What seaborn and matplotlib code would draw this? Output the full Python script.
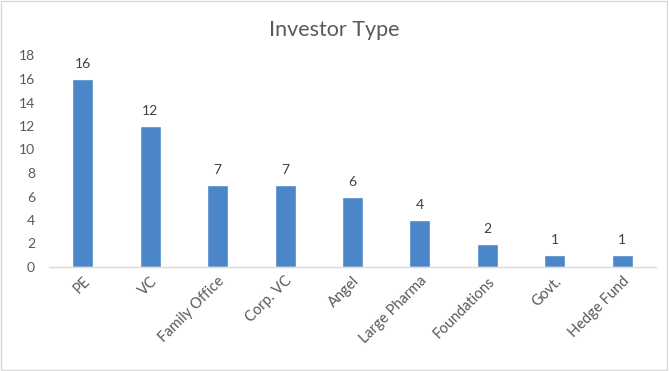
import matplotlib
matplotlib.use('Agg')
import matplotlib.pyplot as plt
import seaborn as sns
import pandas as pd
from matplotlib.patches import Rectangle

# Data
investor_types = ['PE', 'VC', 'Family Office', 'Corp. VC', 'Angel',
                  'Large Pharma', 'Foundations', 'Govt.', 'Hedge Fund']
counts = [16, 12, 7, 7, 6, 4, 2, 1, 1]
y_ticks = list(range(0, 20, 2))

sns.set_style('white')
plt.rcParams['font.family'] = ['Lato', 'DejaVu Sans']

df = pd.DataFrame({'type': investor_types, 'count': counts})

fig = plt.figure(figsize=(6.69, 3.71), dpi=100)
ax = fig.add_axes([49 / 669, 1 - 267 / 371, 607 / 669, 211.5 / 371])

sns.barplot(data=df, x='type', y='count', color='#4a86c8', saturation=1,
            width=0.31, ax=ax)

# value labels above bars
for i, v in enumerate(counts):
    ax.text(i, v + 0.75, str(v), ha='center', va='bottom', fontsize=10, color='#404040')

ax.set_ylim(0, 18)
ax.set_yticks(y_ticks)
ax.tick_params(axis='y', labelsize=10, labelcolor='#595959', length=0, pad=10)
ax.tick_params(axis='x', labelsize=10.5, labelcolor='#595959', length=0, pad=5)
plt.setp(ax.get_xticklabels(), rotation=45, ha='right', rotation_mode='anchor')
ax.set_xlabel('')
ax.set_ylabel('')
for s in ['top', 'right', 'left']:
    ax.spines[s].set_visible(False)
ax.spines['bottom'].set_color('#d9d9d9')
ax.spines['bottom'].set_linewidth(1)

fig.text(0.5, 1 - 30 / 371, 'Investor Type', ha='center', va='center',
         fontsize=15.5, color='#595959')

# light chart border
fig.patches.append(Rectangle((0.002, 0.003), 0.995, 0.993, transform=fig.transFigure,
                             fill=False, edgecolor='#d9d9d9', linewidth=1))

fig.savefig('out.png', dpi=100)
